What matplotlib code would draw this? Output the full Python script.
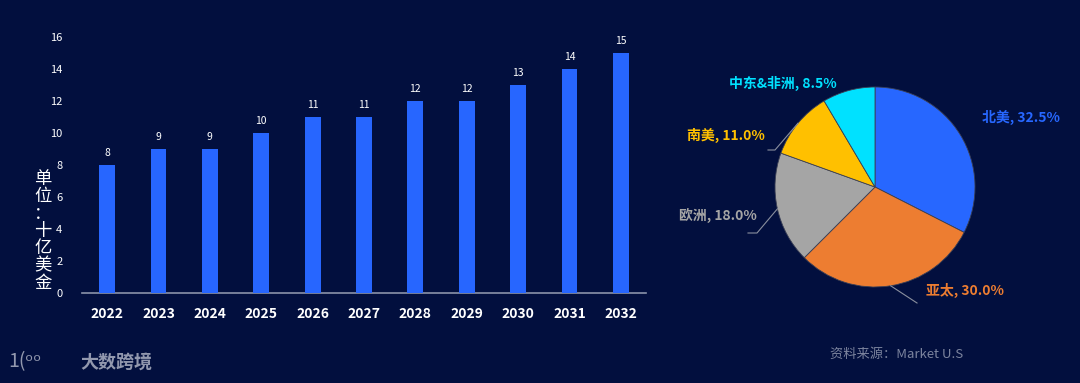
import numpy as np
import matplotlib.pyplot as plt

plt.rcParams['font.family'] = ['Noto Sans CJK SC', 'DejaVu Sans']

# bar data
years = ['2022', '2023', '2024', '2025', '2026', '2027', '2028', '2029', '2030', '2031', '2032']
market_size = [8, 9, 9, 10, 11, 11, 12, 12, 13, 14, 15]

# pie data
regions = ['北美', '亚太', '欧洲', '南美', '中东&非洲']
shares = [32.5, 30.0, 18.0, 11.0, 8.5]
pie_colors = ['#2767FF', '#ED7D31', '#A5A5A5', '#FFC000', '#00E1FF']

bg = '#020F3E'
bar_color = '#2766FF'

fig = plt.figure(figsize=(10.8, 3.83), dpi=100, facecolor=bg)

# ---- bar chart
ax = fig.add_axes([82 / 1080, 90 / 383, 564 / 1080, 256 / 383])
ax.set_facecolor(bg)
x = np.arange(len(years))
bars = ax.bar(x, market_size, width=0.31, color=bar_color, zorder=3)
for xi, v in zip(x, market_size):
    ax.text(xi, v + 0.45, str(v), ha='center', va='bottom', color='white', fontsize=7.5)
ax.set_xlim(-0.49, len(years) - 0.51)
ax.set_ylim(0, 16)
ax.set_yticks(range(0, 17, 2))
ax.set_xticks(x)
ax.set_xticklabels(years, color='white', fontsize=10, fontweight='bold')
ax.tick_params(axis='y', colors='white', labelsize=8, length=0, pad=14)
ax.tick_params(axis='x', length=0, pad=10)
for s in ['top', 'right', 'left']:
    ax.spines[s].set_visible(False)
ax.spines['bottom'].set_color('#8A93AA')
ax.spines['bottom'].set_linewidth(1.2)

fig.text(43 / 1080, 1 - 231 / 383, '单\n位\n：\n十\n亿\n美\n金', color='white', fontsize=12.5,
         ha='center', va='center', linespacing=0.95)

# ---- pie chart
pax = fig.add_axes([675 / 1080, 36 / 383, 400 / 1080, 320 / 383])
pax.set_facecolor(bg)
wedges, _ = pax.pie(shares, colors=pie_colors, startangle=90, counterclock=False,
                    radius=1, wedgeprops=dict(edgecolor='#3A3F55', linewidth=0.6))
pax.set_xlim(-2, 2)
pax.set_ylim(-1.6, 1.6)
pax.set_aspect('equal')
pax.axis('off')

# label layout: (text x, text y, ha, leader elbow or None)
label_pos = [
    (1.07, 0.70, 'left', None),
    (0.51, -1.03, 'left', [(0.42, -1.16), (0.42, -1.16)]),
    (-1.18, -0.28, 'right', [(-1.18, -0.46), (-1.27, -0.46)]),
    (-1.10, 0.52, 'right', [(-1.00, 0.37), (-1.07, 0.37)]),
    (-0.92, 1.04, 'center', None),
]
for w, name, val, col, (tx, ty, ha, elbow) in zip(wedges, regions, shares, pie_colors, label_pos):
    ang = np.deg2rad((w.theta1 + w.theta2) / 2)
    if elbow is not None:
        px = [np.cos(ang)] + [p[0] for p in elbow]
        py = [np.sin(ang)] + [p[1] for p in elbow]
        pax.plot(px, py, color='#8A8F9E', lw=0.8)
    pax.text(tx, ty, f'{name}, {val:.1f}%', color=col, fontsize=10, fontweight='bold',
             ha=ha, va='center')

# ---- footer
fig.text(8 / 1080, 1 - 362 / 383, '1(ᵒᵒ', color='#9298AE', fontsize=14, ha='left', va='center')
fig.text(80 / 1080, 1 - 362 / 383, '大数跨境', color='#9298AE', fontsize=13, fontweight='bold',
         ha='left', va='center')
fig.text(830 / 1080, 1 - 354 / 383, '资料来源：Market U.S', color='#7C849E', fontsize=9.5,
         ha='left', va='center')

fig.savefig('out.png', dpi=100, facecolor=bg)
